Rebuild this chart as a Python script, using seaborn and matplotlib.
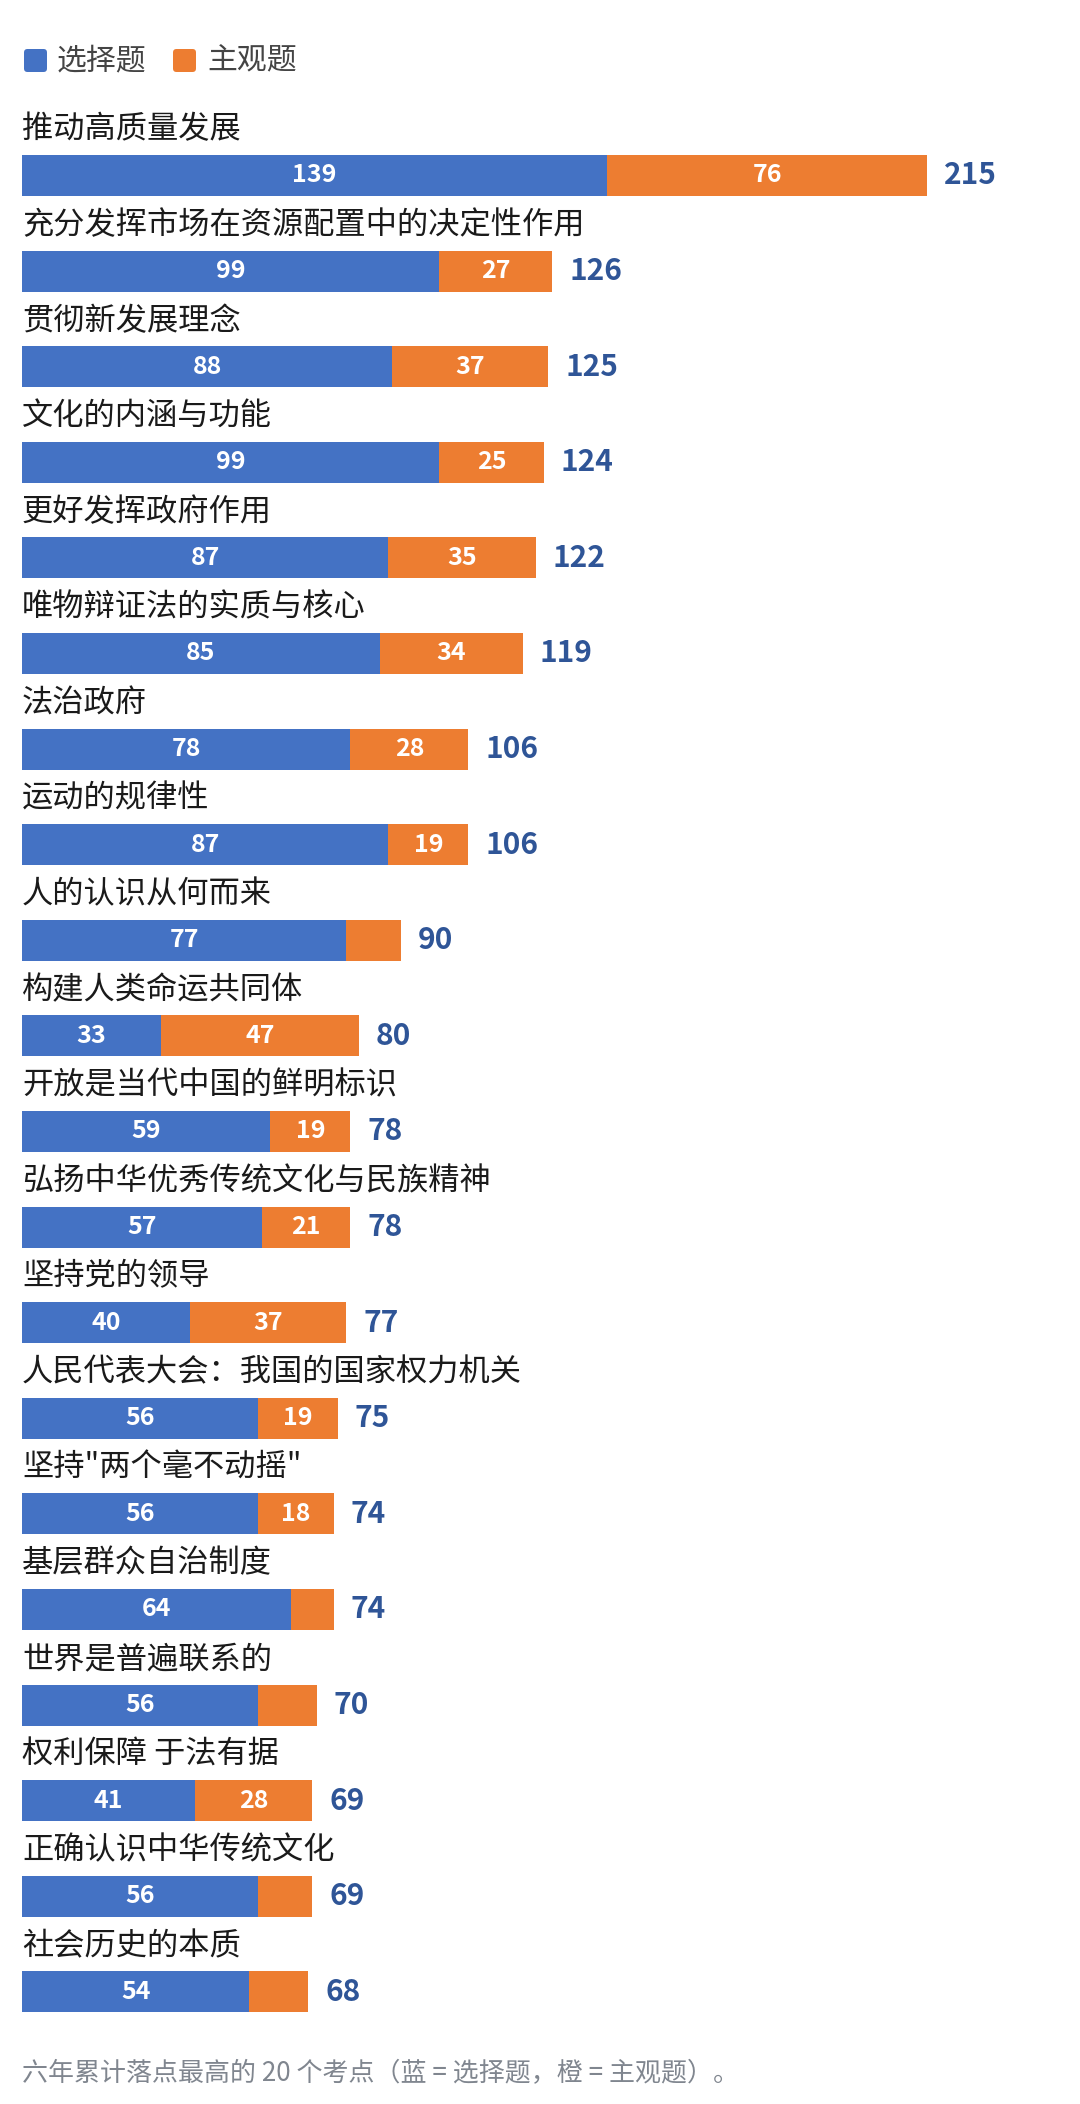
import matplotlib
matplotlib.use("Agg")
import matplotlib.pyplot as plt
from matplotlib.patches import FancyBboxPatch
import seaborn as sns
import pandas as pd

categories = ["推动高质量发展", "充分发挥市场在资源配置中的决定性作用", "贯彻新发展理念", "文化的内涵与功能",
              "更好发挥政府作用", "唯物辩证法的实质与核心", "法治政府", "运动的规律性", "人的认识从何而来",
              "构建人类命运共同体", "开放是当代中国的鲜明标识", "弘扬中华优秀传统文化与民族精神", "坚持党的领导",
              "人民代表大会：我国的国家权力机关", "坚持\"两个毫不动摇\"", "基层群众自治制度", "世界是普遍联系的",
              "权利保障 于法有据", "正确认识中华传统文化", "社会历史的本质"]
choice = [139, 99, 88, 99, 87, 85, 78, 87, 77, 33, 59, 57, 40, 56, 56, 64, 56, 41, 56, 54]
subjective = [76, 27, 37, 25, 35, 34, 28, 19, 13, 47, 19, 21, 37, 19, 18, 10, 14, 28, 13, 14]
series_names = ["选择题", "主观题"]
footer = "六年累计落点最高的 20 个考点（蓝 = 选择题，橙 = 主观题）。"

BLUE = "#4472C4"
ORANGE = "#ED7D31"
TOTAL_C = "#2F5597"

df = pd.DataFrame({"cat": categories, "choice": choice, "subj": subjective})
df["total"] = df["choice"] + df["subj"]

sns.set_theme(style="white")
plt.rcParams["font.family"] = ["Noto Sans CJK SC", "DejaVu Sans"]

W, H = 1080, 2104
fig = plt.figure(figsize=(W / 100, H / 100), dpi=100)
ax = fig.add_axes([0, 0, 1, 1])

px_per_unit = 4.21
left_px = 22
row0_px = 175.5
pitch_px = 95.6
bar_h = 41 / pitch_px

sns.barplot(data=df, y="cat", x="total", color=ORANGE, orient="h", width=bar_h, ax=ax,
            saturation=1, linewidth=0)
sns.barplot(data=df, y="cat", x="choice", color=BLUE, orient="h", width=bar_h, ax=ax,
            saturation=1, linewidth=0)

ax.set_xlim(-left_px / px_per_unit, (W - left_px) / px_per_unit)
ax.set_ylim((H - row0_px) / pitch_px, -row0_px / pitch_px)
ax.axis("off")

for i, r in df.iterrows():
    ax.text(0, i - 46 / pitch_px, r["cat"], ha="left", va="center", fontsize=22.5, color="#1a1a1a")
    ax.text(r["choice"] / 2, i, str(r["choice"]), ha="center", va="center", fontsize=18,
            color="white", fontweight="bold")
    if r["subj"] >= 15:
        ax.text(r["choice"] + r["subj"] / 2, i, str(r["subj"]), ha="center", va="center",
                fontsize=18, color="white", fontweight="bold")
    ax.text(r["total"] + 4, i, str(r["total"]), ha="left", va="center", fontsize=21.5,
            color=TOTAL_C, fontweight="bold")

# legend
leg_y = 60.5
for (sq_x, tx_x), name, col in zip([(24, 57), (173, 207)], series_names, [BLUE, ORANGE]):
    patch = FancyBboxPatch((sq_x / 100, (H - leg_y - 11.5) / 100), 0.23, 0.23,
                           boxstyle="round,pad=0,rounding_size=0.035",
                           transform=fig.dpi_scale_trans, facecolor=col, edgecolor="none")
    fig.add_artist(patch)
    fig.text(tx_x / W, 1 - leg_y / H, name, ha="left", va="center", fontsize=21.5, color="#444444")

fig.text(left_px / W, 1 - 2074 / H, footer, ha="left", va="center", fontsize=18.7, color="#80868f")

fig.savefig("out.png", dpi=100)
